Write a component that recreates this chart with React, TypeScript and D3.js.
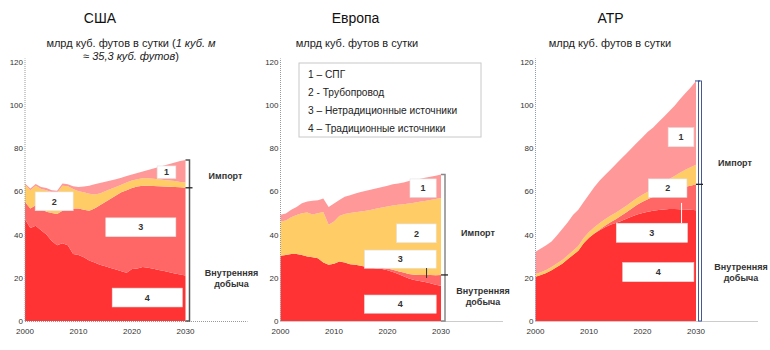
import React from 'react';
import * as d3 from 'd3';

// ---------- DATA ----------
const years = d3.range(2000, 2031);
const yTicks = [0, 20, 40, 60, 80, 100, 120];
const xTicks = [2000, 2010, 2020, 2030];

const layerKeys = ['traditional', 'unconventional', 'pipeline', 'lng'];
const legendItems = [
  '1 – СПГ',
  '2 - Трубопровод',
  '3 – Нетрадиционные источники',
  '4 – Традиционные источники',
];

// США
const usaTraditional = [47, 43, 44, 42, 40, 37, 35, 36, 35, 31, 30.5, 29.5, 28, 27, 26, 25.3, 24.5, 23.8, 23, 22.3, 24, 24.3, 25, 24.6, 24.2, 23.6, 23.1, 22.6, 22, 21.5, 21];
const usaUnconventional = [8, 9, 9.5, 10, 10.5, 13, 14.5, 15, 17, 21, 21.5, 22, 23, 25, 27.5, 29.7, 32, 34.2, 36.5, 38.2, 37.5, 37.9, 37.6, 37.9, 38.2, 38.7, 39.1, 39.5, 40, 40.3, 40.6];
const usaPipeline = [8, 8.5, 9, 9, 10, 9.5, 9.7, 11.5, 10.3, 9, 8, 8, 7.8, 6.5, 5.5, 5, 4.5, 4, 3.5, 3.5, 3.5, 3.3, 3.4, 3.5, 3.4, 3.2, 3, 2.9, 2.7, 2.5, 2.4];
const usaLng = [0.6, 0.8, 0.8, 1, 1, 1, 1, 1.1, 0.9, 1.3, 2, 2.7, 3.8, 4.7, 4.8, 4.4, 4, 3.6, 3.3, 3, 2.7, 2.9, 3.1, 3.8, 4.7, 5.7, 6.7, 7.6, 8.6, 9.7, 10.5];

// Европа
const euTraditional = [30.2, 30.5, 31, 31, 30.5, 29.8, 29.5, 29, 27, 26, 26.5, 27.5, 27, 26.3, 26, 25.5, 25, 24.6, 24.3, 24, 23.5, 22.7, 21.7, 20.7, 19.7, 19, 18.5, 18, 17.4, 16.8, 16.3];
const euUnconventional = [0, 0, 0, 0, 0, 0, 0, 0, 0, 0, 0, 0, 0, 0, 0, 0, 0.2, 0.3, 0.4, 0.5, 0.8, 1, 1.3, 1.7, 2, 2.4, 2.8, 3.3, 3.9, 4.4, 5];
const euPipeline = [15.8, 16, 17, 18, 19.3, 20.4, 19.8, 20.8, 23.4, 18.5, 19.5, 21, 22.5, 23.7, 24.3, 25.1, 25.8, 26.6, 27.3, 28, 28.7, 29.7, 30.7, 31.6, 32.6, 33.3, 33.8, 34.2, 34.7, 35.2, 35.6];
const euLng = [3.1, 3.2, 3.5, 3.7, 4.7, 5.1, 6.3, 6, 6.2, 8.2, 8.3, 7.5, 7.9, 8.2, 8.7, 9.1, 9.2, 9.3, 9.4, 9.5, 9.6, 9.8, 9.9, 10.1, 10.4, 10.5, 10.6, 10.7, 10.7, 10.8, 10.9];

// АТР
const apTraditional = [20.5, 21.3, 22.2, 23.5, 25, 26.5, 28.5, 30.5, 32.5, 36, 38.5, 40.5, 42, 43.3, 44.5, 45.3, 46.3, 47.3, 48.3, 49.3, 50, 50.5, 51, 51.3, 51.6, 51.8, 51.8, 51.7, 51.6, 51.4, 51.2];
const apUnconventional = [0, 0, 0, 0, 0, 0, 0, 0, 0, 0, 0, 0, 0.3, 0.7, 1.2, 1.8, 2.4, 3, 3.7, 4.4, 5.1, 5.8, 6.5, 7.2, 7.9, 8.5, 9.1, 9.8, 10.5, 11.2, 12];
const apPipeline = [1.2, 1.3, 1.4, 1.5, 1.6, 1.7, 1.8, 2, 2.2, 2.4, 2.6, 2.8, 3, 3, 3, 3, 3, 3, 3.1, 3.2, 3.3, 3.5, 3.8, 4.2, 4.8, 5.4, 6.2, 7, 7.8, 8.5, 9.1];
const apLng = [10.3, 10.9, 11.4, 11.8, 12.9, 14.3, 15.2, 16.5, 16.8, 16.6, 17.4, 18.7, 19.7, 20.5, 21.3, 22.4, 23.3, 24.2, 24.9, 25.6, 26.6, 27.7, 28.2, 29.3, 30.2, 31.3, 32.4, 34, 35.4, 36.9, 38.7];

// ---------- STYLE / LAYOUT ----------
const FONT = '"Liberation Sans", Arial, Helvetica, sans-serif';
const layerColors: Record<string, string> = {
  traditional: '#ff3333',
  unconventional: '#ff6666',
  pipeline: '#ffcc66',
  lng: '#ff9999',
};
const Y0 = 321;
const Y120 = 61.5;
const PLOT_W = 160.5;

type Box = { label: string; x0: number; x1: number; top: number; bottom: number };

const panels = [
  {
    title: 'США',
    left: 25,
    series: [usaTraditional, usaUnconventional, usaPipeline, usaLng],
    axisColor: '#999',
    bracketStyle: 'plain',
    bracketColor: '#555',
    boxes: [
      { label: '1', x0: 2024.7, x1: 2028.2, top: 71.7, bottom: 65.9 },
      { label: '2', x0: 2001.9, x1: 2009.0, top: 59.7, bottom: 51.0 },
      { label: '3', x0: 2015.1, x1: 2028.2, top: 47.7, bottom: 39.0 },
      { label: '4', x0: 2016.3, x1: 2029.4, top: 15.2, bottom: 6.5 },
    ] as Box[],
    pointer: null as null | { year: number; v0: number; v1: number; color: string },
    importLabel: { dx: 40, v: 67 },
    domLabel: { dx: 46, v: 22.2 },
  },
  {
    title: 'Европа',
    left: 280.5,
    series: [euTraditional, euUnconventional, euPipeline, euLng],
    axisColor: '#999',
    bracketStyle: 'plain',
    bracketColor: '#888',
    boxes: [
      { label: '1', x0: 2024.2, x1: 2029.1, top: 65.7, bottom: 57.2 },
      { label: '2', x0: 2021.7, x1: 2029.1, top: 44.9, bottom: 36.2 },
      { label: '3', x0: 2015.7, x1: 2029.1, top: 32.8, bottom: 24.4 },
      { label: '4', x0: 2015.7, x1: 2029.1, top: 12.0, bottom: 3.6 },
    ] as Box[],
    pointer: { year: 2027.3, v0: 24.5, v1: 19.9, color: '#333' },
    importLabel: { dx: 37, v: 40.8 },
    domLabel: { dx: 42, v: 13.9 },
  },
  {
    title: 'АТР',
    left: 535.5,
    series: [apTraditional, apUnconventional, apPipeline, apLng],
    axisColor: '#8a9cc0',
    bracketStyle: 'double',
    bracketColor: '#34488a',
    boxes: [
      { label: '1', x0: 2024.8, x1: 2029.6, top: 89.4, bottom: 80.6 },
      { label: '2', x0: 2021.1, x1: 2028.3, top: 65.7, bottom: 57.2 },
      { label: '3', x0: 2015.1, x1: 2028.4, top: 45.2, bottom: 36.4 },
      { label: '4', x0: 2016.3, x1: 2029.6, top: 27.0, bottom: 18.2 },
    ] as Box[],
    pointer: { year: 2027.3, v0: 54.6, v1: 45.3, color: '#ffffff' },
    importLabel: { dx: 39, v: 73 },
    domLabel: { dx: 45, v: 25.1 },
  },
];

function Panel({ p }: { p: (typeof panels)[number] }) {
  const x = d3.scaleLinear().domain([2000, 2030]).range([p.left, p.left + PLOT_W]);
  const y = d3.scaleLinear().domain([0, 120]).range([Y0, Y120]);
  const rows = years.map((yr, i) => {
    const r: any = { year: yr };
    layerKeys.forEach((k, j) => (r[k] = p.series[j][i]));
    return r;
  });
  const stacked = d3.stack<any>().keys(layerKeys)(rows);
  const area = d3
    .area<any>()
    .x((d) => x(d.data.year))
    .y0((d) => y(d[0]))
    .y1((d) => y(d[1]));

  const last = rows[rows.length - 1];
  const total = layerKeys.reduce((s, k) => s + last[k], 0);
  const domestic = last.traditional + last.unconventional;
  const bx = x(2030) + 4;
  const yTop = y(total);
  const yMid = y(domestic);
  const yBot = y(0);

  const labelStyle = { fontFamily: FONT, fontSize: 9, fontWeight: 700, fill: '#333' } as const;

  return (
    <g>
      {stacked.map((s) => (
        <path key={s.key} d={area(s) || ''} fill={layerColors[s.key]} />
      ))}
      {/* y axis */}
      <line x1={x(2000)} x2={x(2000)} y1={y(0)} y2={y(120) - 3} stroke={p.axisColor} strokeWidth={1} strokeDasharray="1,1" />
      {yTicks.map((t) => (
        <text key={t} x={x(2000) - 2} y={y(t) + 3} textAnchor="end" style={{ fontFamily: FONT, fontSize: 8, fill: '#333' }}>
          {t}
        </text>
      ))}
      {/* x axis */}
      <line x1={x(2000)} x2={bx + 58} y1={y(0) + 0.5} y2={y(0) + 0.5} stroke="#999" strokeWidth={1} strokeDasharray="1,1" />
      {xTicks.map((t) => (
        <text key={t} x={x(t)} y={Y0 + 13} textAnchor="middle" style={{ fontFamily: FONT, fontSize: 8, fill: '#333' }}>
          {t}
        </text>
      ))}
      {/* boxes */}
      {p.boxes.map((b) => (
        <g key={b.label}>
          <rect x={x(b.x0)} y={y(b.top)} width={x(b.x1) - x(b.x0)} height={y(b.bottom) - y(b.top)} fill="#fff" stroke="#e2e2e2" strokeWidth={0.6} />
          <text x={(x(b.x0) + x(b.x1)) / 2} y={(y(b.top) + y(b.bottom)) / 2 + 3.2} textAnchor="middle" style={labelStyle}>
            {b.label}
          </text>
        </g>
      ))}
      {p.pointer && (
        <line x1={x(p.pointer.year)} x2={x(p.pointer.year)} y1={y(p.pointer.v0)} y2={y(p.pointer.v1)} stroke={p.pointer.color} strokeWidth={1} />
      )}
      {/* bracket */}
      {p.bracketStyle === 'double' ? (
        <g>
          <rect x={bx - 1.5} y={yTop} width={3} height={yBot - yTop} fill="#fff" stroke={p.bracketColor} strokeWidth={0.9} />
          <path d={`M${bx - 5},${yTop} H${bx}`} stroke={p.bracketColor} strokeWidth={1} fill="none" />
        </g>
      ) : (
        <path d={`M${bx - 4},${yTop} H${bx} V${yBot} H${bx - 4}`} stroke={p.bracketColor} strokeWidth={1.5} fill="none" />
      )}
      <path d={`M${bx - 4},${yMid} H${bx + 3}`} stroke="#222" strokeWidth={1.3} fill="none" />
      {/* labels */}
      <text x={x(2030) + p.importLabel.dx} y={y(p.importLabel.v) + 3.2} textAnchor="middle" style={labelStyle}>
        Импорт
      </text>
      <text textAnchor="middle" style={labelStyle}>
        <tspan x={x(2030) + p.domLabel.dx} y={y(p.domLabel.v) + 3.2}>Внутренняя</tspan>
        <tspan x={x(2030) + p.domLabel.dx} y={y(p.domLabel.v) + 3.2 + 11}>добыча</tspan>
      </text>
      {/* title */}
      <text x={p.left + 75} y={23} textAnchor="middle" style={{ fontFamily: FONT, fontSize: 14, fill: '#111' }}>
        {p.title}
      </text>
    </g>
  );
}

export default function App() {
  const sub = { fontFamily: FONT, fontSize: 11, fill: '#222' } as const;
  return (
    <svg width={770} height={350} style={{ position: 'absolute', left: 0, top: 0, background: '#fff' }}>
      <rect width={770} height={350} fill="#fff" />
      {panels.map((p) => (
        <Panel key={p.title} p={p} />
      ))}
      {/* subtitles */}
      <text x={131} y={47} textAnchor="middle" style={sub}>
        млрд куб. футов в сутки (<tspan fontStyle="italic">1 куб. м</tspan>
      </text>
      <text x={131} y={60} textAnchor="middle" style={sub}>
        <tspan fontStyle="italic">≈ 35,3 куб. футов</tspan>)
      </text>
      <text x={357} y={47} textAnchor="middle" style={sub}>
        млрд куб. футов в сутки
      </text>
      <text x={610} y={47} textAnchor="middle" style={sub}>
        млрд куб. футов в сутки
      </text>
      {/* legend */}
      <rect x={299} y={63} width={182} height={74} fill="#fff" stroke="#c8c8c8" strokeWidth={1} />
      {legendItems.map((t, i) => (
        <text key={t} x={308} y={77.5 + i * 18.3} style={{ fontFamily: FONT, fontSize: 10.2, fill: '#222' }}>
          {t}
        </text>
      ))}
    </svg>
  );
}
